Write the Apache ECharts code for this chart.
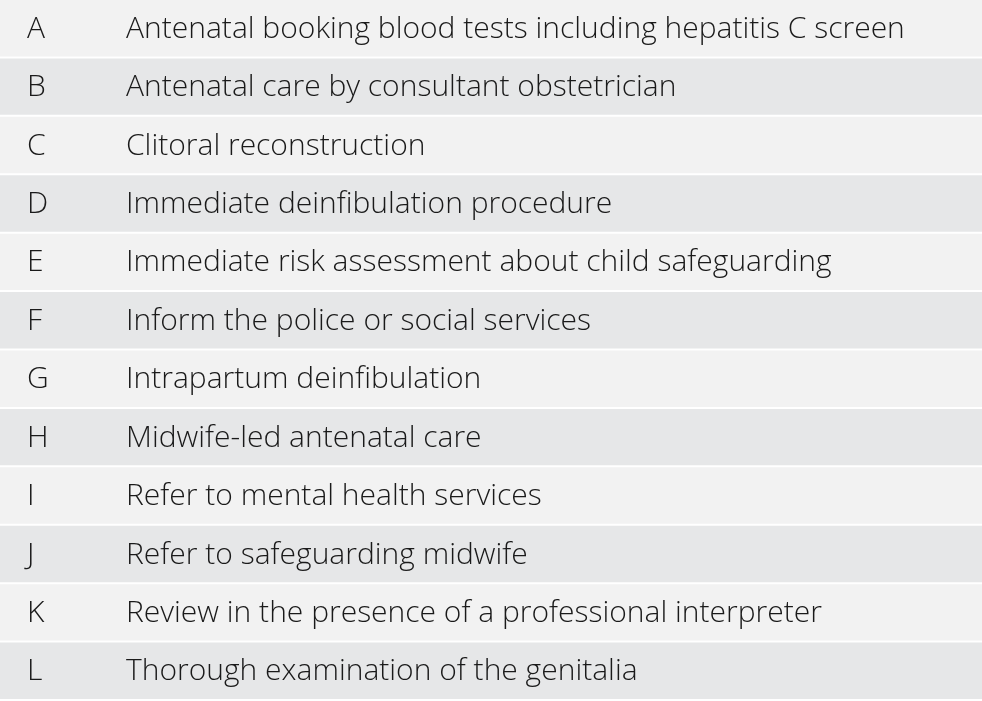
<!DOCTYPE html>
<html><head><meta charset="utf-8">
<script src="https://cdn.jsdelivr.net/npm/echarts@6/dist/echarts.min.js"></script>
<style>html,body{margin:0;padding:0;background:#fff}#c{width:982px;height:701px}</style>
</head><body><div id="c"></div>
<script>
const letters = ['A','B','C','D','E','F','G','H','I','J','K','L'];
const descriptions = [
 'Antenatal booking blood tests including hepatitis C screen',
 'Antenatal care by consultant obstetrician',
 'Clitoral reconstruction',
 'Immediate deinfibulation procedure',
 'Immediate risk assessment about child safeguarding',
 'Inform the police or social services',
 'Intrapartum deinfibulation',
 'Midwife-led antenatal care',
 'Refer to mental health services',
 'Refer to safeguarding midwife',
 'Review in the presence of a professional interpreter',
 'Thorough examination of the genitalia'
];
const chart = echarts.init(document.getElementById('c'));
chart.setOption({
 animation:false,
 grid:{left:0,right:0,top:0,bottom:0},
 xAxis:{type:'value',min:0,max:1,show:false},
 yAxis:{type:'category',data:letters,inverse:true,show:false},
 series:[{
  type:'custom',
  data:letters.map((l,i)=>[i,l,descriptions[i]]),
  encode:{y:0},
  renderItem:function(params,api){
   const i=api.value(0);
   const c=api.coord([0,i]);
   const h=api.size([0,1])[1];
   const top=c[1]-h/2;
   const w=params.coordSys.width;
   const font='300 30px "Open Sans", "Noto Sans", sans-serif';
   return {type:'group',children:[
    {type:'rect',shape:{x:0,y:top,width:w,height:h-2},style:{fill:i%2===0?'#f2f2f2':'#e6e7e8'}},
    {type:'text',style:{x:27,y:c[1],text:letters[i],font:font,fill:'#1a1a1a',verticalAlign:'middle'}},
    {type:'text',style:{x:126,y:c[1],text:descriptions[i],font:font,fill:'#1a1a1a',verticalAlign:'middle'}}
   ]};
  }
 }]
});
</script></body></html>
